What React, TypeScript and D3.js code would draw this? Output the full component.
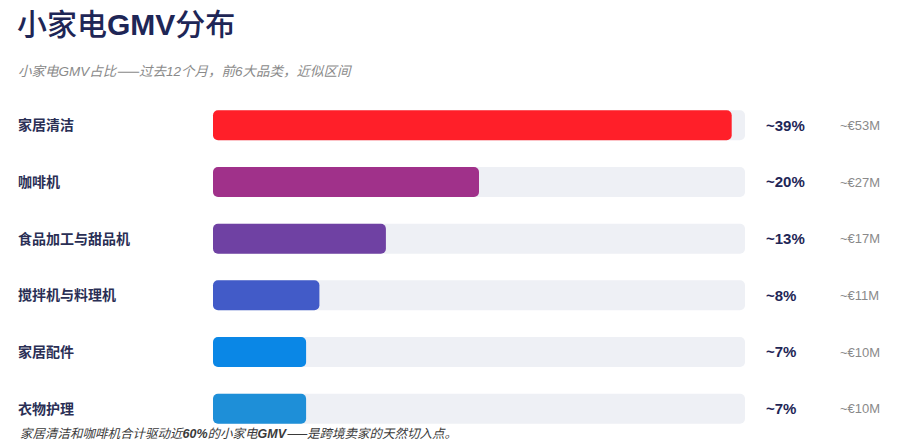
import React from "react";
import * as d3 from "d3";

// Category shares of small-appliance GMV (last 12 months)
const categories = ["家居清洁", "咖啡机", "食品加工与甜品机", "搅拌机与料理机", "家居配件", "衣物护理"];
const shares = [39, 20, 13, 8, 7, 7];
const gmvLabels = ["~€53M", "~€27M", "~€17M", "~€11M", "~€10M", "~€10M"];
const barColors = ["#ff1f29", "#a0318a", "#6f41a3", "#425bc8", "#0a87e6", "#1e8fd8"];

const W = 900;
const H = 446;
const NAVY = "#1e2656";
const CJK = "'Noto Sans CJK SC', 'Liberation Sans', sans-serif";
const LATIN = "'Liberation Sans', 'Noto Sans CJK SC', sans-serif";

export default function App() {
  const x = d3.scaleLinear().domain([0, 40]).range([213, 745]);
  const y = d3.scaleBand<string>().domain(categories).range([97, 437]).padding(0);
  const barH = 30;

  return (
    <svg
      width={W}
      height={H}
      style={{ position: "absolute", left: 0, top: 0, background: "#fff" }}
      fontFamily={LATIN}
    >
      {/* Title */}
      <text x={17} y={35} fontSize={30} fill={NAVY} fontFamily={CJK} fontWeight={500}>
        小家电
        <tspan fontFamily={LATIN} fontWeight="bold">GMV</tspan>
        分布
      </text>
      <text x={18} y={76} fontSize={13.5} fontStyle="italic" fill="#8a8a8a" fontFamily={CJK}>
        小家电<tspan fontFamily={LATIN}>GMV</tspan>占比——过去<tspan fontFamily={LATIN}>12</tspan>个月，前<tspan fontFamily={LATIN}>6</tspan>大品类，近似区间
      </text>

      {categories.map((c, i) => {
        const cy = (y(c) ?? 0) + y.bandwidth() / 2;
        return (
          <g key={c}>
            <text
              x={18}
              y={cy}
              dy="0.35em"
              fontSize={14}
              fontWeight="bold"
              fill="#2a2f55"
              fontFamily={CJK}
            >
              {c}
            </text>
            <rect
              x={x(0)}
              y={cy - barH / 2}
              width={x(40) - x(0)}
              height={barH}
              rx={5}
              fill="#eef0f5"
            />
            <rect
              x={x(0)}
              y={cy - barH / 2}
              width={x(shares[i]) - x(0)}
              height={barH}
              rx={5}
              fill={barColors[i]}
            />
            <text x={766} y={cy} dy="0.35em" fontSize={15} fontWeight="bold" fill={NAVY}>
              {`~${shares[i]}%`}
            </text>
            <text x={840} y={cy} dy="0.35em" fontSize={13} fill="#8a8a8a">
              {gmvLabels[i]}
            </text>
          </g>
        );
      })}

      {/* Footnote */}
      <text x={20} y={438} fontSize={12.5} fontStyle="italic" fill="#3a3a3a" fontFamily={CJK}>
        家居清洁和咖啡机合计驱动近<tspan fontFamily={LATIN} fontWeight="bold">60%</tspan>的小家电<tspan fontFamily={LATIN} fontWeight="bold">GMV</tspan>——是跨境卖家的天然切入点。
      </text>
    </svg>
  );
}
